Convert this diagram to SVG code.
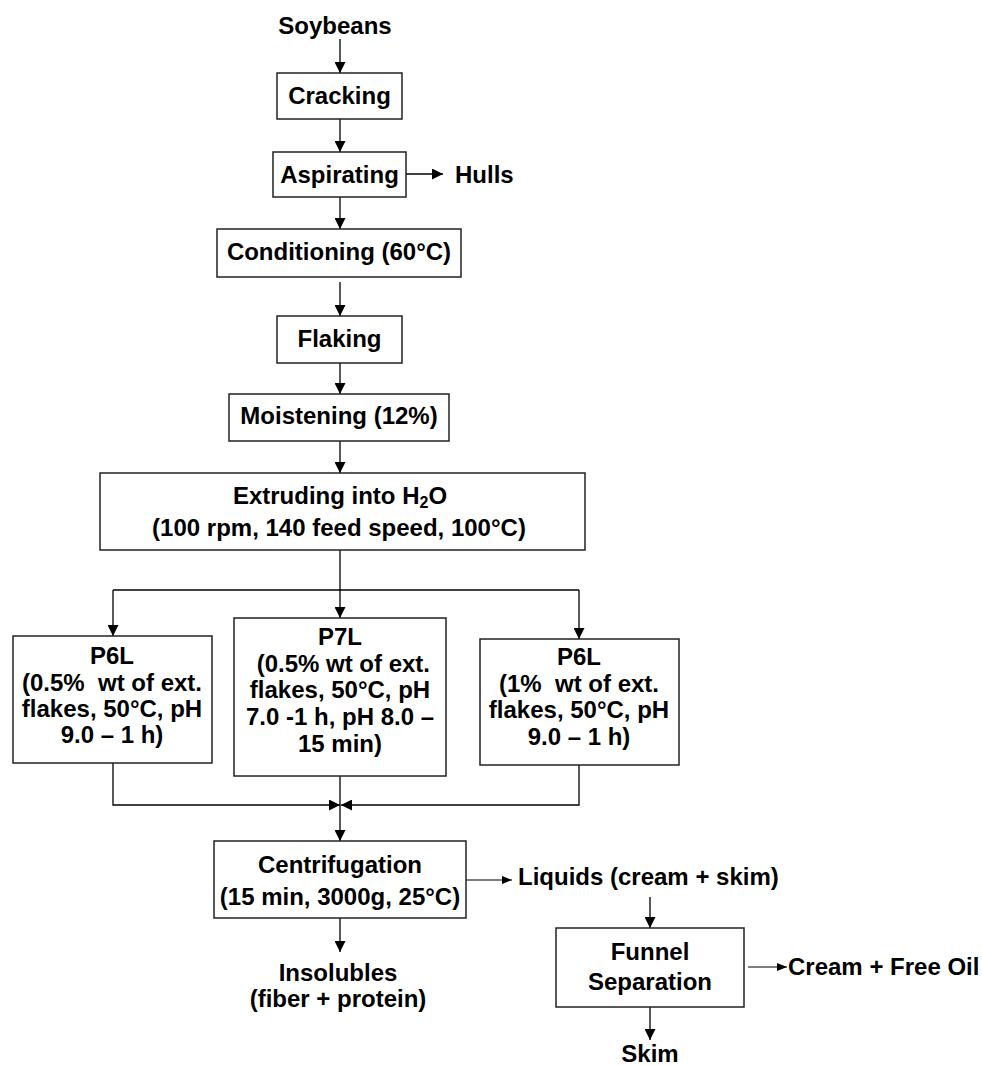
<svg xmlns="http://www.w3.org/2000/svg" width="982" height="1065" viewBox="0 0 982 1065">
<style>
  .box { fill: #ffffff; stroke: #222222; stroke-width: 1.5; }
  .t { font-family: "Liberation Sans", Arial, sans-serif; font-weight: bold; font-size: 24px; fill: #000000; text-anchor: middle; }
  .ts { font-family: "Liberation Sans", Arial, sans-serif; font-weight: bold; font-size: 24px; fill: #000000; text-anchor: start; }
  .pre { white-space: pre; }
  .c { fill: none; stroke: #000000; stroke-width: 1.3; }
  .ca { fill: none; stroke: #000000; stroke-width: 1.3; marker-end: url(#arr); }
  .cs { fill: none; stroke: #000000; stroke-width: 1.2; marker-end: url(#arrs); }
</style>
<defs>
  <marker id="arr" markerUnits="userSpaceOnUse" markerWidth="11" markerHeight="11" refX="11" refY="5.5" orient="auto">
    <path d="M0,0 L11,5.5 L0,11 z" fill="#000000"/>
  </marker>
  <marker id="arrs" markerUnits="userSpaceOnUse" markerWidth="10" markerHeight="8" refX="10" refY="4" orient="auto">
    <path d="M0,0 L10,4 L0,8 z" fill="#000000"/>
  </marker>
</defs>
<rect x="0" y="0" width="982" height="1065" fill="#ffffff"/>

<g id="connectors">
  <line class="ca" x1="340" y1="39" x2="340" y2="73"/>
  <line class="ca" x1="340" y1="119" x2="340" y2="152"/>
  <line class="ca" x1="406" y1="174" x2="443" y2="174"/>
  <line class="ca" x1="340" y1="197" x2="340" y2="229"/>
  <line class="ca" x1="340" y1="282" x2="340" y2="316"/>
  <line class="ca" x1="340" y1="363" x2="340" y2="394"/>
  <line class="ca" x1="340" y1="441" x2="340" y2="473"/>
  <line class="c" x1="340" y1="550" x2="340" y2="590"/>
  <line class="c" x1="113" y1="590" x2="579" y2="590"/>
  <line class="ca" x1="113" y1="590" x2="113" y2="636"/>
  <line class="ca" x1="340" y1="590" x2="340" y2="618"/>
  <line class="ca" x1="579" y1="590" x2="579" y2="639"/>
  <polyline class="ca" points="113,763 113,805 340,805"/>
  <polyline class="ca" points="579,765 579,805 341,805"/>
  <line class="ca" x1="340" y1="776" x2="340" y2="841"/>
  <line class="cs" x1="466" y1="880" x2="512" y2="880"/>
  <line class="ca" x1="340" y1="918" x2="340" y2="952"/>
  <line class="ca" x1="650" y1="897" x2="650" y2="928"/>
  <line class="cs" x1="748" y1="967" x2="787" y2="967"/>
  <line class="ca" x1="650" y1="1007" x2="650" y2="1040"/>
</g>

<g id="soybeans"><text class="t" x="335" y="33.5">Soybeans</text></g>

<g id="cracking">
  <rect class="box" x="277" y="73" width="125" height="46"/>
  <text class="t" x="339.5" y="103.5">Cracking</text>
</g>

<g id="aspirating">
  <rect class="box" x="273" y="152" width="133" height="45"/>
  <text class="t" x="339.5" y="182.7">Aspirating</text>
</g>

<g id="hulls"><text class="ts" x="455" y="182.7">Hulls</text></g>

<g id="conditioning">
  <rect class="box" x="217" y="229" width="244" height="48"/>
  <text class="t" x="339" y="260">Conditioning (60°C)</text>
</g>

<g id="flaking">
  <rect class="box" x="277" y="316" width="125" height="47"/>
  <text class="t" x="339.5" y="346.7">Flaking</text>
</g>

<g id="moistening">
  <rect class="box" x="229" y="394" width="220" height="47"/>
  <text class="t" x="339" y="424">Moistening (12%)</text>
</g>

<g id="extruding">
  <rect class="box" x="100" y="473" width="485" height="77"/>
  <text class="t" x="340" y="503.7">Extruding into H<tspan font-size="16" dy="4">2</tspan><tspan dy="-4">O</tspan></text>
  <text class="t" x="339" y="535.5">(100 rpm, 140 feed speed, 100°C)</text>
</g>

<g id="p6l-left">
  <rect class="box" x="13" y="636" width="199" height="127"/>
  <text class="t pre" x="112" y="664">P6L</text>
  <text class="t pre" x="112" y="691">(0.5%  wt of ext.</text>
  <text class="t pre" x="112" y="717">flakes, 50°C, pH</text>
  <text class="t pre" x="112" y="743">9.0 – 1 h)</text>
</g>

<g id="p7l">
  <rect class="box" x="234" y="618" width="212" height="158"/>
  <text class="t" x="340" y="645">P7L</text>
  <text class="t pre" x="340" y="671.7"> (0.5% wt of ext.</text>
  <text class="t" x="340" y="698.3">flakes, 50°C, pH</text>
  <text class="t" x="340" y="725">7.0 -1 h, pH 8.0 –</text>
  <text class="t" x="340" y="751.7">15 min)</text>
</g>

<g id="p6l-right">
  <rect class="box" x="480" y="639" width="199" height="126"/>
  <text class="t" x="579" y="665">P6L</text>
  <text class="t pre" x="579" y="691.7">(1%  wt of ext.</text>
  <text class="t" x="579" y="718.3">flakes, 50°C, pH</text>
  <text class="t" x="579" y="745">9.0 – 1 h)</text>
</g>

<g id="centrifugation">
  <rect class="box" x="214" y="841" width="252" height="77"/>
  <text class="t" x="340" y="873">Centrifugation</text>
  <text class="t" x="340" y="905">(15 min, 3000g, 25°C)</text>
</g>

<g id="liquids"><text class="ts" x="518" y="885" font-size="23">Liquids (cream + skim)</text></g>

<g id="insolubles">
  <text class="t" x="338" y="981">Insolubles</text>
  <text class="t" x="338" y="1007">(fiber + protein)</text>
</g>

<g id="funnel">
  <rect class="box" x="556" y="928" width="188" height="79"/>
  <text class="t" x="650" y="960">Funnel</text>
  <text class="t" x="650" y="990">Separation</text>
</g>

<g id="cream"><text class="ts" x="788" y="975">Cream + Free Oil</text></g>

<g id="skim"><text class="t" x="650" y="1062">Skim</text></g>
</svg>
